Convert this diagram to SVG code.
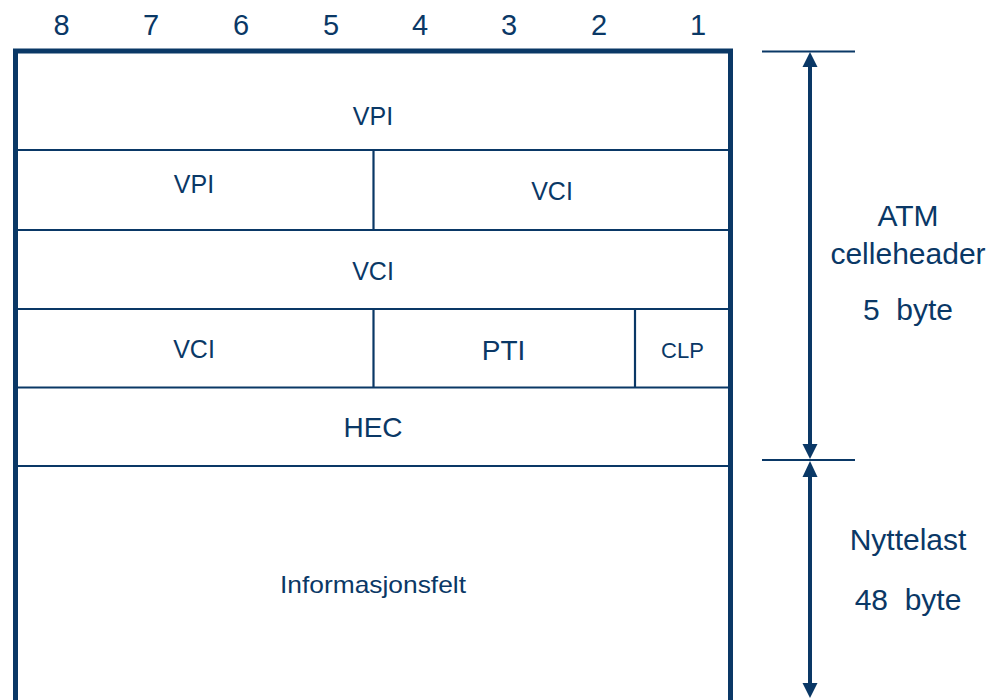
<svg xmlns="http://www.w3.org/2000/svg" width="995" height="700" viewBox="0 0 995 700">
<style>
  text { font-family: "Liberation Sans", Arial, sans-serif; fill: #0a3866; text-anchor: middle; }
  .thick { stroke: #0a3866; stroke-width: 5; fill: none; }
  .thin { stroke: #0a3866; stroke-width: 2.2; fill: none; }
  .dim { stroke: #0a3866; stroke-width: 2; fill: none; }
  .arr { stroke: #0a3866; stroke-width: 4; fill: none; }
  .num { font-size: 29px; }
  .f { font-size: 25px; }
  .side { font-size: 30px; white-space: pre; }
</style>
<g id="bit-numbers">
  <text class="num" x="61.5" y="35">8</text>
  <text class="num" x="151" y="35">7</text>
  <text class="num" x="241" y="35">6</text>
  <text class="num" x="331" y="35">5</text>
  <text class="num" x="420" y="35">4</text>
  <text class="num" x="509" y="35">3</text>
  <text class="num" x="599" y="35">2</text>
  <text class="num" x="698" y="35">1</text>
</g>
<g id="frame">
  <path class="thick" d="M15.5,702 L15.5,51 L730.5,51 L730.5,702"/>
  <line class="thin" x1="15" y1="150" x2="731" y2="150"/>
  <line class="thin" x1="15" y1="230" x2="731" y2="230"/>
  <line class="thin" x1="15" y1="309" x2="731" y2="309"/>
  <line class="thin" x1="15" y1="387.5" x2="731" y2="387.5"/>
  <line class="thin" x1="15" y1="466" x2="731" y2="466"/>
  <line class="thin" x1="373.5" y1="150" x2="373.5" y2="230"/>
  <line class="thin" x1="373.5" y1="309" x2="373.5" y2="387.5"/>
  <line class="thin" x1="635" y1="309" x2="635" y2="387.5"/>
</g>
<g id="row1"><text class="f" x="373" y="125">VPI</text></g>
<g id="row2-vpi"><text class="f" x="194" y="193">VPI</text></g>
<g id="row2-vci"><text class="f" x="552" y="200">VCI</text></g>
<g id="row3"><text class="f" x="373" y="280">VCI</text></g>
<g id="row4-vci"><text class="f" x="194" y="358">VCI</text></g>
<g id="row4-pti"><text x="503.5" y="360" style="font-size:28px">PTI</text></g>
<g id="row4-clp"><text x="682.5" y="358" style="font-size:22px">CLP</text></g>
<g id="row5-hec"><text x="373" y="437" style="font-size:28px">HEC</text></g>
<g id="payload"><text x="373" y="593" style="font-size:24px" textLength="186" lengthAdjust="spacingAndGlyphs">Informasjonsfelt</text></g>
<g id="connectors">
  <line class="dim" x1="762" y1="51.5" x2="855" y2="51.5"/>
  <line class="dim" x1="762" y1="460" x2="855" y2="460"/>
  <line class="arr" x1="810" y1="66" x2="810" y2="445"/>
  <path d="M810,52 L802.5,67 L817.5,67 Z" fill="#0a3866"/>
  <path d="M810,459 L802.5,444 L817.5,444 Z" fill="#0a3866"/>
  <line class="arr" x1="810" y1="476" x2="810" y2="684"/>
  <path d="M810,461 L802.5,477 L817.5,477 Z" fill="#0a3866"/>
  <path d="M810,698 L802.5,683 L817.5,683 Z" fill="#0a3866"/>
</g>
<g id="header-label">
  <text class="side" x="908" y="226">ATM</text>
  <text class="side" x="908" y="264">celleheader</text>
  <text class="side" x="908" y="320" xml:space="preserve">5  byte</text>
</g>
<g id="payload-label">
  <text class="side" x="908" y="550">Nyttelast</text>
  <text class="side" x="908" y="610" xml:space="preserve">48  byte</text>
</g>
</svg>
